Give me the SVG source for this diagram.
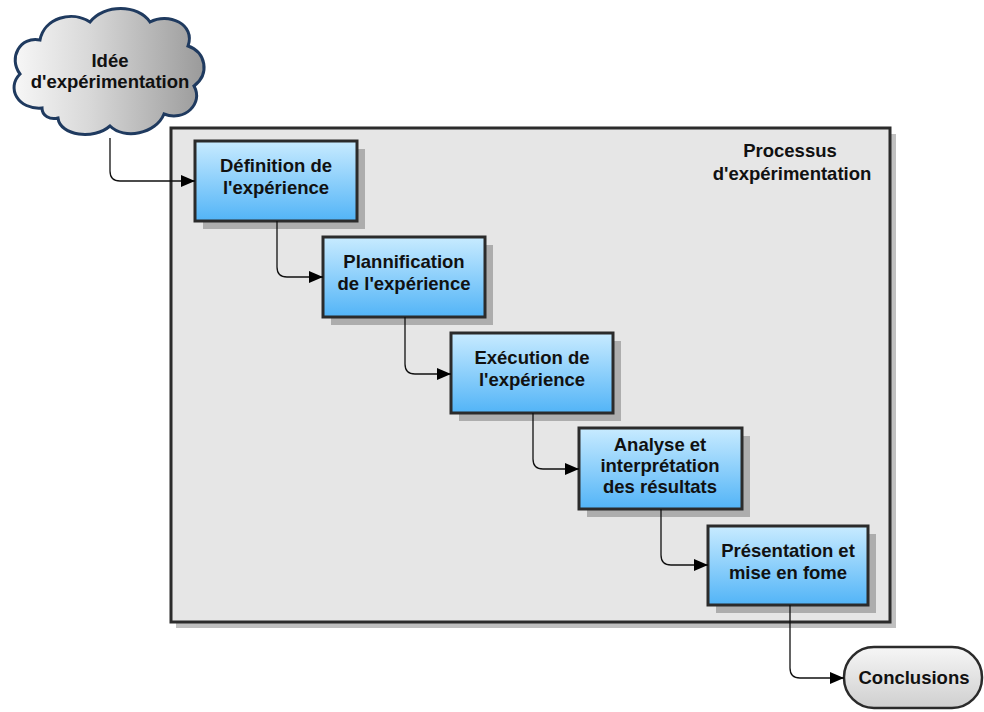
<svg xmlns="http://www.w3.org/2000/svg" width="984" height="712" viewBox="0 0 984 712">
<defs>
<linearGradient id="gBlue" x1="0" y1="0" x2="0" y2="1">
<stop offset="0" stop-color="#c8ebff"/>
<stop offset="1" stop-color="#52b4f7"/>
</linearGradient>
<linearGradient id="gCloud" x1="0" y1="0" x2="1" y2="0">
<stop offset="0" stop-color="#f7f7f7"/>
<stop offset="0.4" stop-color="#d8d8d8"/>
<stop offset="1" stop-color="#9a9a9a"/>
</linearGradient>
<linearGradient id="gPill" x1="0" y1="0" x2="0" y2="1">
<stop offset="0" stop-color="#f6f6f6"/>
<stop offset="1" stop-color="#cfcfcf"/>
</linearGradient>
<marker id="arr" viewBox="0 0 14 12" refX="14" refY="6" markerWidth="14" markerHeight="12" markerUnits="userSpaceOnUse" orient="auto">
<path d="M0,0 L14,6 L0,12 Z" fill="#000"/>
</marker>
</defs>
<style>
.box{fill:url(#gBlue);stroke:#2b2b2b;stroke-width:3}
.shadow{fill:#999;opacity:0.75}
.t{font-family:"Liberation Sans",Arial,sans-serif;font-weight:bold;font-size:18.5px;fill:#111;text-anchor:middle}
.conn{fill:none;stroke:#111;stroke-width:1.3;marker-end:url(#arr)}
</style>
<rect width="984" height="712" fill="#fff"/>
<g id="container">
<rect x="176" y="134" width="720" height="494" fill="#b0b0b0" opacity="0.8"/>
<rect x="171" y="128" width="719" height="494" fill="#e6e6e6" stroke="#2b2b2b" stroke-width="3"/>
<text class="t" x="790" y="157">Processus</text>
<text class="t" x="792" y="180">d'expérimentation</text>
</g>
<g id="idee">
<path d="M42,108 C18,110 6,88 20,74 C8,58 20,36 40,40 C44,18 72,10 90,22 C104,4 138,4 150,22 C168,12 196,24 188,46 C206,52 210,74 194,86 C204,104 184,122 164,114 C156,134 124,140 110,126 C94,140 60,136 58,118 C50,120 42,116 42,108 Z" fill="url(#gCloud)" stroke="#1f3a5f" stroke-width="3"/>
<text class="t" x="110" y="67">Idée</text>
<text class="t" x="110" y="88">d'expérimentation</text>
</g>
<g id="n1">
<rect class="shadow" x="203" y="149" width="162" height="80"/>
<rect class="box" x="195" y="141" width="162" height="80"/>
<text class="t" x="276" y="172">Définition de</text>
<text class="t" x="276" y="194">l'expérience</text>
</g>
<g id="n2">
<rect class="shadow" x="331" y="245" width="162" height="80"/>
<rect class="box" x="323" y="237" width="162" height="80"/>
<text class="t" x="404" y="268">Plannification</text>
<text class="t" x="404" y="290">de l'expérience</text>
</g>
<g id="n3">
<rect class="shadow" x="459" y="341" width="162" height="80"/>
<rect class="box" x="451" y="333" width="162" height="80"/>
<text class="t" x="532" y="364">Exécution de</text>
<text class="t" x="532" y="386">l'expérience</text>
</g>
<g id="n4">
<rect class="shadow" x="587" y="436" width="163" height="81"/>
<rect class="box" x="579" y="428" width="163" height="81"/>
<text class="t" x="660" y="451">Analyse et</text>
<text class="t" x="660" y="472">interprétation</text>
<text class="t" x="660" y="493">des résultats</text>
</g>
<g id="n5">
<rect class="shadow" x="716" y="534" width="160" height="79"/>
<rect class="box" x="708" y="526" width="160" height="79"/>
<text class="t" x="788" y="557">Présentation et</text>
<text class="t" x="788" y="579">mise en fome</text>
</g>
<g id="conclusions">
<rect x="844" y="647" width="138" height="61" rx="30" ry="30" fill="url(#gPill)" stroke="#2b2b2b" stroke-width="2.5"/>
<text class="t" x="914" y="684">Conclusions</text>
</g>
<g id="connectors">
<path class="conn" d="M110,138 V171 Q110,181 120,181 H195"/>
<path class="conn" d="M277,221 V267 Q277,277 287,277 H323"/>
<path class="conn" d="M405,317 V364 Q405,374 415,374 H451"/>
<path class="conn" d="M533,413 V459 Q533,469 543,469 H579"/>
<path class="conn" d="M661,509 V555 Q661,565 671,565 H708"/>
<path class="conn" d="M790,605 V668 Q790,678 800,678 H844"/>
</g>
</svg>
